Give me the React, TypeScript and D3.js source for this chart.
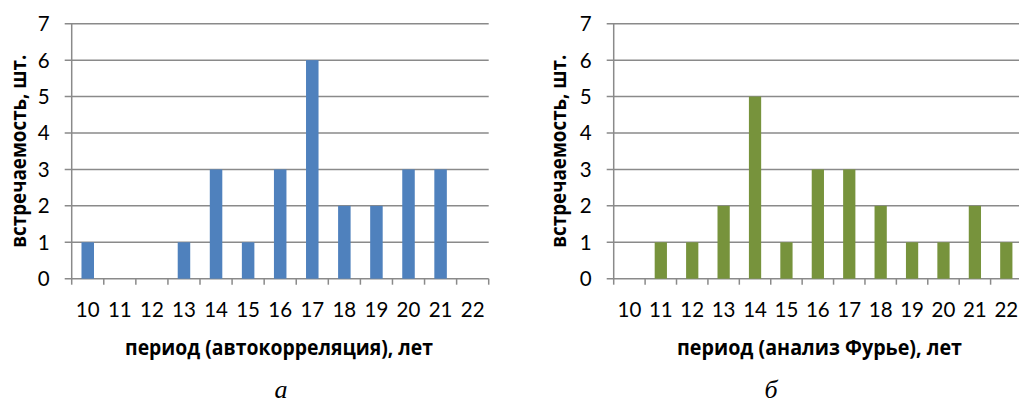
import React from 'react';
import * as d3 from 'd3';

const periods = ['10', '11', '12', '13', '14', '15', '16', '17', '18', '19', '20', '21', '22'];
const autocorrValues = [1, 0, 0, 1, 3, 1, 3, 6, 2, 2, 3, 3, 0];
const fourierValues = [0, 1, 1, 2, 5, 1, 3, 3, 2, 1, 1, 2, 1];
const yTicks = [0, 1, 2, 3, 4, 5, 6, 7];

type PanelProps = {
  values: number[];
  color: string;
  left: number;
  right: number;
  xTitle: string;
  xTitleLen: number;
  xTitleX: number;
  yTitleX: number;
  caption: string;
  captionX: number;
};

const top = 23.7;
const bottom = 278.7;
const numFont = "Lato, 'Open Sans', sans-serif";
const textFont = "'Open Sans', 'DejaVu Sans', sans-serif";

const Panel = ({ values, color, left, right, xTitle, xTitleLen, xTitleX, yTitleX, caption, captionX }: PanelProps) => {
  const x = d3.scaleBand().domain(periods).range([left, right]).padding(0);
  const y = d3.scaleLinear().domain([0, 7]).range([bottom, top]);
  const barW = x.bandwidth() * 0.39;
  const grid = '#8a8a8a';

  return (
    <g>
      {yTicks.map(t => (
        <g key={t}>
          <line x1={left - 7} x2={right} y1={y(t)} y2={y(t)} stroke={grid} strokeWidth={1.5} />
          <text x={left - 22} y={y(t)} dy="0.36em" textAnchor="end" fontFamily={numFont} fontSize={20.5} fill="#000">{t}</text>
        </g>
      ))}
      <line x1={left} x2={left} y1={top} y2={bottom} stroke={grid} strokeWidth={1.5} />
      {periods.map((p, i) => (
        <line key={'t' + p} x1={left + i * x.bandwidth()} x2={left + i * x.bandwidth()} y1={bottom} y2={bottom + 6} stroke={grid} strokeWidth={1.5} />
      ))}
      <line x1={right} x2={right} y1={bottom} y2={bottom + 6} stroke={grid} strokeWidth={1.5} />
      {values.map((v, i) => v > 0 && (
        <rect key={'b' + i}
          x={(x(periods[i]) as number) + x.bandwidth() / 2 - barW / 2}
          y={y(v)}
          width={barW}
          height={bottom - y(v)}
          fill={color} />
      ))}
      {periods.map(p => (
        <text key={'l' + p} x={(x(p) as number) + x.bandwidth() / 2} y={bottom + 38.5} textAnchor="middle" fontFamily={numFont} fontSize={20.5} fill="#000">{p}</text>
      ))}
      <text x={xTitleX} y={355} textAnchor="middle" fontFamily={textFont} fontWeight="bold" fontSize={22}
        textLength={xTitleLen} lengthAdjust="spacingAndGlyphs" fill="#000">{xTitle}</text>
      <text transform={`translate(${yTitleX},${(top + bottom) / 2}) rotate(-90)`} textAnchor="middle" fontFamily={textFont} fontWeight="bold" fontSize={22}
        textLength={193} lengthAdjust="spacingAndGlyphs" fill="#000">встречаемость, шт.</text>
      <text x={captionX} y={398} textAnchor="middle" fontFamily="'Liberation Serif', 'DejaVu Serif', serif" fontStyle="italic" fontSize={26} fill="#000">{caption}</text>
    </g>
  );
};

export default function App() {
  return (
    <svg width={1019} height={403} style={{ position: 'absolute', left: 0, top: 0, background: '#fff' }}>
      <rect width={1019} height={403} fill="#fff" />
      <Panel values={autocorrValues} color="#4f81bd" left={71.7} right={488.7}
        xTitle="период (автокорреляция), лет" xTitleLen={308} xTitleX={279}
        yTitleX={26} caption="а" captionX={281} />
      <Panel values={fourierValues} color="#77933c" left={613.7} right={1022}
        xTitle="период (анализ Фурье), лет" xTitleLen={285} xTitleX={819.5}
        yTitleX={566} caption="б" captionX={771} />
    </svg>
  );
}
